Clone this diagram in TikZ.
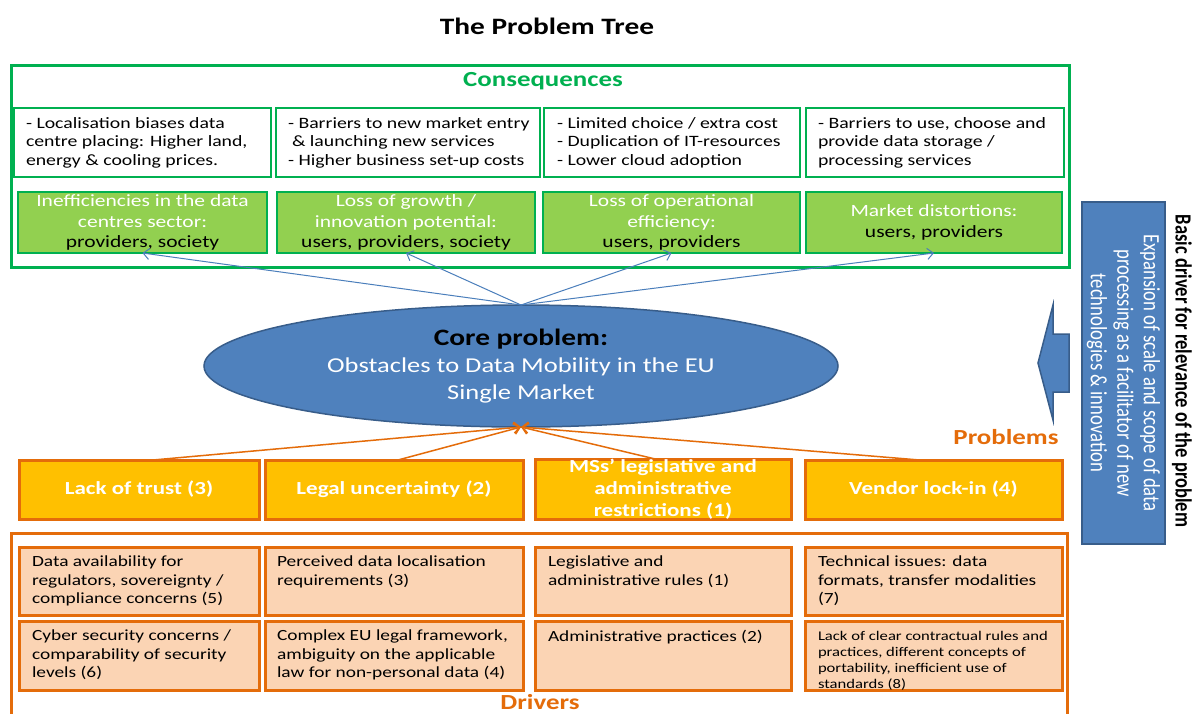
\documentclass[tikz,border=0pt]{standalone}
\usepackage{fontspec}
\setmainfont{Carlito}[FakeStretch=1.25]
\newfontfamily\rotfont{Carlito}
\usetikzlibrary{shapes.geometric,arrows.meta}
\definecolor{cgreen}{HTML}{00B050}
\definecolor{lgreen}{HTML}{92D050}
\definecolor{cblue}{HTML}{4F81BD}
\definecolor{dblue}{HTML}{385D8A}
\definecolor{lblue}{HTML}{4A7EBB}
\definecolor{corange}{HTML}{E46C0A}
\definecolor{cyellow}{HTML}{FFC000}
\definecolor{lorange}{HTML}{FBD4B4}
\newcommand{\wt}[1]{\textcolor{white}{#1}}
\begin{document}
\begin{tikzpicture}[x=1pt,y=-1pt,
  every node/.style={inner sep=0pt, outer sep=0pt},
  sz/.style 2 args={minimum width=#1, minimum height=#2},
  frame/.style={draw=cgreen, line width=3pt},
  whbox/.style={draw=cgreen, line width=2.5pt, fill=white},
  whtxt/.style={anchor=west, align=left, font=\fontsize{15.8}{18.5}\selectfont},
  grbox/.style={draw=cgreen, line width=2.5pt, fill=lgreen, align=center, font=\fontsize{17.2}{20.5}\selectfont},
  pbbox/.style={draw=corange, line width=3pt, fill=cyellow, align=center, text=white, font=\bfseries\fontsize{18.4}{22}\selectfont},
  drbox/.style={draw=corange, line width=3pt, fill=lorange},
  drtxt/.style={anchor=north west, align=left, font=\fontsize{15.5}{18.5}\selectfont},
  bluearrow/.style={draw=lblue, line width=1pt, -{Straight Barb[length=6pt,width=11pt]}},
  orarrow/.style={draw=corange, line width=1.5pt, -{Straight Barb[length=6pt,width=11pt]}},
  heading/.style={font=\bfseries\fontsize{21.5}{25}\selectfont},
  vtext/.style={rotate=-90, yscale=1.25}
]
\useasboundingbox (0,0) rectangle (1194,713);
\fill[white] (0,0) rectangle (1194,713);

% title
\node[font=\bfseries\fontsize{23.5}{27}\selectfont] (title) at (547,26) {The Problem Tree};

% consequences frame
\node[frame, sz={1058pt}{202pt}] (consframe) at (540,166) {};
\node[heading, text=cgreen] (cons) at (543,81) {Consequences};

% white boxes
\node[whbox, sz={257pt}{69pt}] (w1) at (142.5,142.5) {};
\node[whbox, sz={264pt}{69pt}] (w2) at (408,142.5) {};
\node[whbox, sz={256pt}{69pt}] (w3) at (672,142.5) {};
\node[whbox, sz={258pt}{69pt}] (w4) at (935,142.5) {};
\node[whtxt] (w1t) at ([xshift=12pt]w1.west) {- Localisation biases data\\centre placing: Higher land,\\energy \& cooling prices.};
\node[whtxt] (w2t) at ([xshift=12pt]w2.west) {- Barriers to new market entry\\\hspace*{4pt}\& launching new services\\- Higher business set-up costs};
\node[whtxt] (w3t) at ([xshift=13pt]w3.west) {- Limited choice / extra cost\\- Duplication of IT-resources\\- Lower cloud adoption};
\node[whtxt] (w4t) at ([xshift=12pt]w4.west) {- Barriers to use, choose and\\provide data storage /\\processing services};

% green boxes
\node[grbox, sz={249pt}{61pt}] (g1) at (142.5,222.5) {\wt{Inefficiencies in the data}\\\wt{centres sector:}\\providers, society};
\node[grbox, sz={258pt}{61pt}] (g2) at (406,222.5) {\wt{Loss of growth /}\\\wt{innovation potential:}\\users, providers, society};
\node[grbox, sz={257pt}{61pt}] (g3) at (671.5,222.5) {\wt{Loss of operational}\\\wt{efficiency:}\\users, providers};
\node[grbox, sz={256pt}{61pt}] (g4) at (934,222.5) {\wt{Market distortions:}\\users, providers};

% core problem
\node[ellipse, draw=dblue, line width=1.5pt, fill=cblue, sz={634pt}{122pt}, align=center, text=white, font=\fontsize{21.2}{27}\selectfont] (core) at (521,366)
  {\textcolor{black}{\bfseries\fontsize{23.5}{27}\selectfont Core problem:}\\Obstacles to Data Mobility in the EU\\Single Market};

% blue connectors
\draw[bluearrow] (core.north) -- (g1.south);
\draw[bluearrow] (core.north) -- (g2.south);
\draw[bluearrow] (core.north) -- (g3.south);
\draw[bluearrow] (core.north) -- (g4.south);

% problems
\node[heading, text=corange] (probl) at (1006,437) {Problems};
\node[pbbox, sz={240pt}{59pt}] (p1) at (139,489.5) {Lack of trust (3)};
\node[pbbox, sz={258pt}{59pt}] (p2) at (394,489.5) {Legal uncertainty (2)};
\node[pbbox, sz={256pt}{59pt}] (p3) at (663,489.5) {MSs' legislative and\\administrative\\restrictions (1)};
\node[pbbox, sz={257pt}{59pt}] (p4) at (933.5,489.5) {Vendor lock-in (4)};

% orange connectors
\draw[orarrow] ([xshift=14pt]p1.north) -- (core.south);
\draw[orarrow] ([xshift=4pt]p2.north) -- (core.south);
\draw[orarrow] ([xshift=-6pt]p3.north) -- (core.south);
\draw[orarrow] ([xshift=-14pt]p4.north) -- (core.south);

% drivers frame
\draw[draw=corange, line width=3pt] (11,725) -- (11,533) -- (1067,533) -- (1067,725);
\node[heading, text=corange] (drv) at (540,702) {Drivers};

% driver boxes
\node[drbox, sz={240pt}{68pt}] (d11) at (139,581) {};
\node[drbox, sz={258pt}{68pt}] (d12) at (394,581) {};
\node[drbox, sz={256pt}{68pt}] (d13) at (663,581) {};
\node[drbox, sz={257pt}{68pt}] (d14) at (933.5,581) {};
\node[drbox, sz={240pt}{69pt}] (d21) at (139,655.5) {};
\node[drbox, sz={258pt}{69pt}] (d22) at (394,655.5) {};
\node[drbox, sz={256pt}{69pt}] (d23) at (663,655.5) {};
\node[drbox, sz={257pt}{69pt}] (d24) at (933.5,655.5) {};
\node[drtxt] (d11t) at ([xshift=13pt,yshift=-9pt]d11.north west) {Data availability for\\regulators, sovereignty /\\compliance concerns (5)};
\node[drtxt] (d12t) at ([xshift=12pt,yshift=-9pt]d12.north west) {Perceived data localisation\\requirements (3)};
\node[drtxt] (d13t) at ([xshift=13pt,yshift=-9pt]d13.north west) {Legislative and\\administrative rules (1)};
\node[drtxt] (d14t) at ([xshift=13pt,yshift=-9pt]d14.north west) {Technical issues: data\\formats, transfer modalities\\(7)};
\node[drtxt] (d21t) at ([xshift=13pt,yshift=-9pt]d21.north west) {Cyber security concerns /\\comparability of security\\levels (6)};
\node[drtxt] (d22t) at ([xshift=12pt,yshift=-9pt]d22.north west) {Complex EU legal framework,\\ambiguity on the applicable\\law for non-personal data (4)};
\node[drtxt] (d23t) at ([xshift=13pt,yshift=-9pt]d23.north west) {Administrative practices (2)};
\node[drtxt, font=\fontsize{13.3}{16}\selectfont] (d24t) at ([xshift=13pt,yshift=-10pt]d24.north west) {Lack of clear contractual rules and\\practices, different concepts of\\portability, inefficient use of\\standards (8)};

% right side
\draw[draw=dblue, fill=cblue, line width=1.5pt] (1069,334) -- (1053,334) -- (1053,305) -- (1038,363) -- (1053,420) -- (1053,392) -- (1069,392) -- cycle;
\node[draw=dblue, fill=cblue, line width=1.5pt, sz={83pt}{342pt}] (bbox) at (1123.5,373) {};
\node[vtext, align=center, text=white, font=\rotfont\fontsize{18.7}{21.2}\selectfont] (btxt) at (bbox.center) {Expansion of scale and scope of data\\processing as a facilitator of new\\technologies \& innovation};
\node[vtext, font=\rotfont\bfseries\fontsize{18.5}{20}\selectfont] (basic) at (1182,371) {Basic driver for relevance of the problem};
\end{tikzpicture}
\end{document}
